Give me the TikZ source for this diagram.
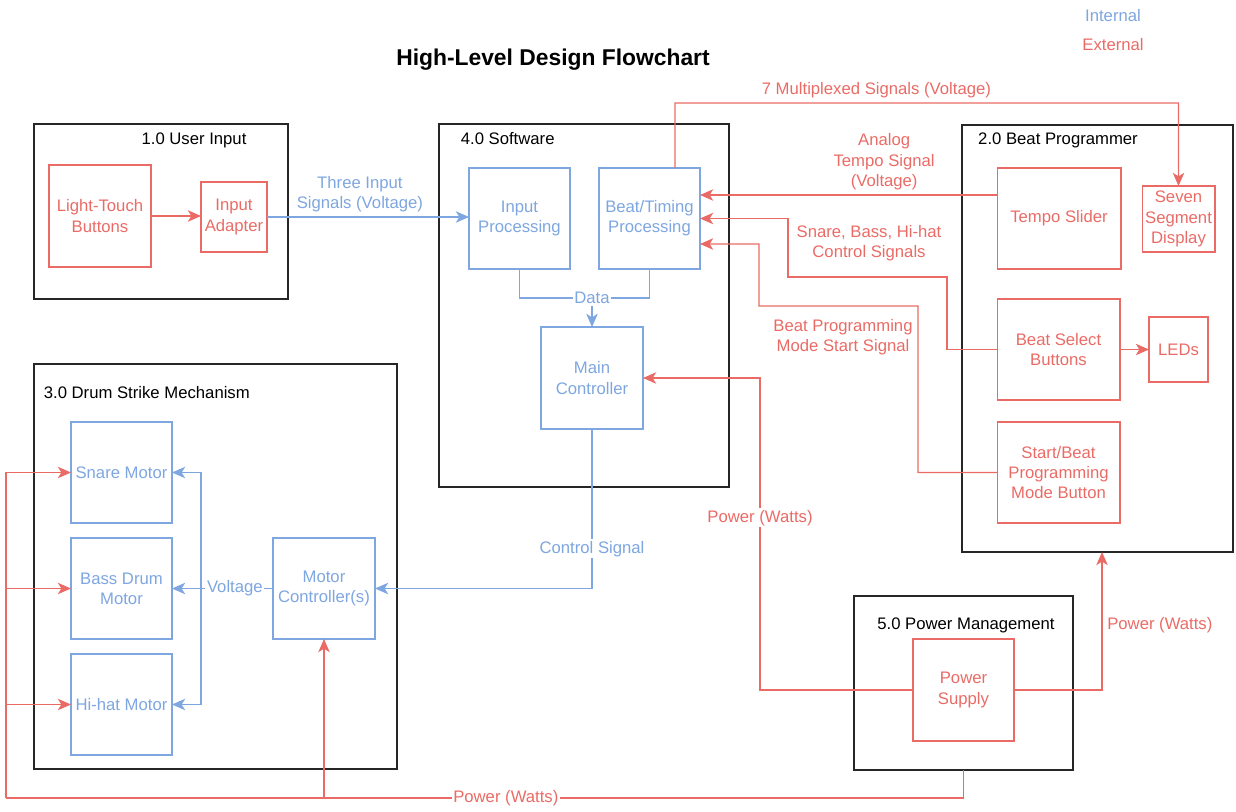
\documentclass[tikz,border=0pt]{standalone}
\usepackage{fontspec}
\setmainfont{Liberation Sans}
\usepackage{tikz}
\usetikzlibrary{arrows.meta}

\definecolor{intblue}{HTML}{7EA6E0}
\definecolor{extred}{HTML}{EA6B66}

\tikzset{
  every node/.style={font=\fontsize{9.5}{11.5}\selectfont, outer sep=0pt},
  sz/.style 2 args={minimum width=#1cm, minimum height=#2cm},
  grp/.style={draw=black!85, line width=0.8pt},
  intbox/.style={draw=intblue, text=intblue, line width=0.6pt, align=center, inner sep=1pt},
  extbox/.style={draw=extred, text=extred, line width=0.6pt, align=center, inner sep=1pt},
  int/.style={draw=intblue, line width=0.7pt},
  ext/.style={draw=extred, line width=0.7pt},
  intlbl/.style={text=intblue, align=center, inner sep=1pt},
  extlbl/.style={text=extred, align=center, inner sep=1pt},
  online/.style={fill=white},
  >={Stealth[length=7.5pt, width=6.5pt, inset=2pt]}
}

\begin{document}
\begin{tikzpicture}[x=0.02cm, y=-0.02cm]
      \useasboundingbox (0,0) rectangle (1236,811);

      % 1. title and legend
      \node[font=\fontsize{13}{15}\selectfont\bfseries] (title) at (553,60) {High-Level Design Flowchart};
      \node[text=intblue] (legint) at (1113,16) {Internal};
      \node[text=extred] (legext) at (1113,45) {External};

      % 2. subsystem boxes
      \node[grp, sz={5.08}{3.5}] (ui) at (161,211.5) {};
      \node (uit) at (194,140) {1.0 User Input};
      \node[grp, sz={5.8}{7.26}] (sw) at (584,305.5) {};
      \node[anchor=west] (swt) at (455,139) {4.0 Software};
      \node[grp, sz={5.42}{8.54}] (bp) at (1097.5,338.5) {};
      \node (bpt) at (1058,140) {2.0 Beat Programmer};
      \node[grp, sz={7.26}{8.1}] (ds) at (215.5,566.5) {};
      \node[anchor=west] (dst) at (38,393) {3.0 Drum Strike Mechanism};
      \node[grp, sz={4.38}{3.48}] (pm) at (963.5,683) {};
      \node (pmt) at (966,625) {5.0 Power Management};

      % 3. blocks inside the subsystems
      \node[extbox, sz={2.04}{2.04}] (ltb) at (100,216) {Light-Touch\\Buttons};
      \node[extbox, sz={1.32}{1.4}] (ia) at (234,217) {Input\\Adapter};
      \node[intbox, sz={2.02}{2.02}] (ip) at (519.5,218.5) {Input\\Processing};
      \node[intbox, sz={2.02}{2.02}] (bt) at (649.5,218.5) {Beat/Timing\\Processing};
      \node[intbox, sz={2.04}{2.04}] (mc) at (592,378) {Main\\Controller};
      \node[extbox, sz={2.48}{2.02}] (ts) at (1059,218.5) {Tempo Slider};
      \node[extbox, sz={1.46}{1.32}] (ssd) at (1178.5,219) {Seven\\Segment\\Display};
      \node[extbox, sz={2.46}{2.02}] (bsb) at (1058.5,349.5) {Beat Select\\Buttons};
      \node[extbox, sz={1.18}{1.3}] (leds) at (1178.5,349.5) {LEDs};
      \node[extbox, sz={2.46}{2.02}] (sbb) at (1058.5,472.5) {Start/Beat\\Programming\\Mode Button};
      \node[intbox, sz={2.02}{2.02}] (sm) at (121.5,472.5) {Snare Motor};
      \node[intbox, sz={2.02}{2.02}] (bdm) at (121.5,588.5) {Bass Drum\\Motor};
      \node[intbox, sz={2.02}{2.02}] (hm) at (121.5,704.5) {Hi-hat Motor};
      \node[intbox, sz={2.04}{2.02}] (mcs) at (324,588.5) {Motor\\Controller(s)};
      \node[extbox, sz={2.02}{2.04}] (ps) at (963.5,690) {Power\\Supply};

      % 4. user input and software signals
      \draw[ext, ->] (ltb.east) -- (ltb.east -| ia.west);
      \draw[int, ->] (ia.east) -- (ia.east -| ip.west)
        node[intlbl, above=2pt, pos=0.46] (lthree) {Three Input\\Signals (Voltage)};
      \coordinate (dat) at (592,298);
      \draw[int] (ip.south) |- (dat) -| (bt.south);
      \draw[int, ->] (dat) -- (mc.north);
      \node[intlbl, online] (ldat) at (dat) {Data};
      \draw[int, ->] (mc.south) |- (mcs.east)
        node[intlbl, online, pos=0.376] (lctl) {Control Signal};

      % 5. motor voltages
      \coordinate (vbus) at (201,588.5);
      \draw[int] (mcs.west) -- (vbus) node[intlbl, online, pos=0.53] (lvol) {Voltage};
      \draw[int, ->] (vbus) |- (sm.east);
      \draw[int, ->] (vbus) -- (bdm.east);
      \draw[int, ->] (vbus) |- (hm.east);

      % 6. beat programmer signals
      \coordinate (ats) at ([yshift=0.47cm]ts.west);
      \draw[ext, ->] (ats) -- (ats -| bt.east)
        node[extlbl, above=2pt, pos=0.38] (lana) {Analog\\Tempo Signal\\(Voltage)};
      \draw[ext, ->] (bsb.west) -| (947,277) -| (788,218.5) -- (bt.east);
      \node[extlbl] (lsbh) at (869,243.5) {Snare, Bass, Hi-hat\\Control Signals};
      \draw[ext, ->] (sbb.west) -| (918,306) -| (759,244) -- ([yshift=-0.51cm]bt.east);
      \node[extlbl] (lbpm) at (843,337) {Beat Programming\\Mode Start Signal};
      \coordinate (mux) at (675,103);
      \draw[ext, ->] ([xshift=0.51cm]bt.north) -- (mux) -| (ssd.north)
        node[extlbl, above=2pt, pos=0.2] (lmux) {7 Multiplexed Signals (Voltage)};
      \draw[ext, ->] (bsb.east) -- (leds.west);

      % 7. power lines
      \coordinate (pwl) at (760,690);
      \draw[ext, ->] (ps.west) -- (pwl) |- (mc.east)
        node[extlbl, online, pos=0.276] (lpw1) {Power (Watts)};
      \draw[ext, ->] (ps.east) -| ([xshift=0.09cm]bp.south)
        node[extlbl, right=2pt, pos=0.735] (lpw2) {Power (Watts)};
      \coordinate (pbot) at (6,798);
      \draw[ext] (pm.south) |- (pbot)
        node[extlbl, online, pos=0.739] (lpw3) {Power (Watts)};
      \draw[ext, ->] (pbot) |- (sm.west);
      \draw[ext, ->] (pbot) |- (bdm.west);
      \draw[ext, ->] (pbot) |- (hm.west);
      \draw[ext, ->] (mcs.south |- pbot) -- (mcs.south);
\end{tikzpicture}
\end{document}
